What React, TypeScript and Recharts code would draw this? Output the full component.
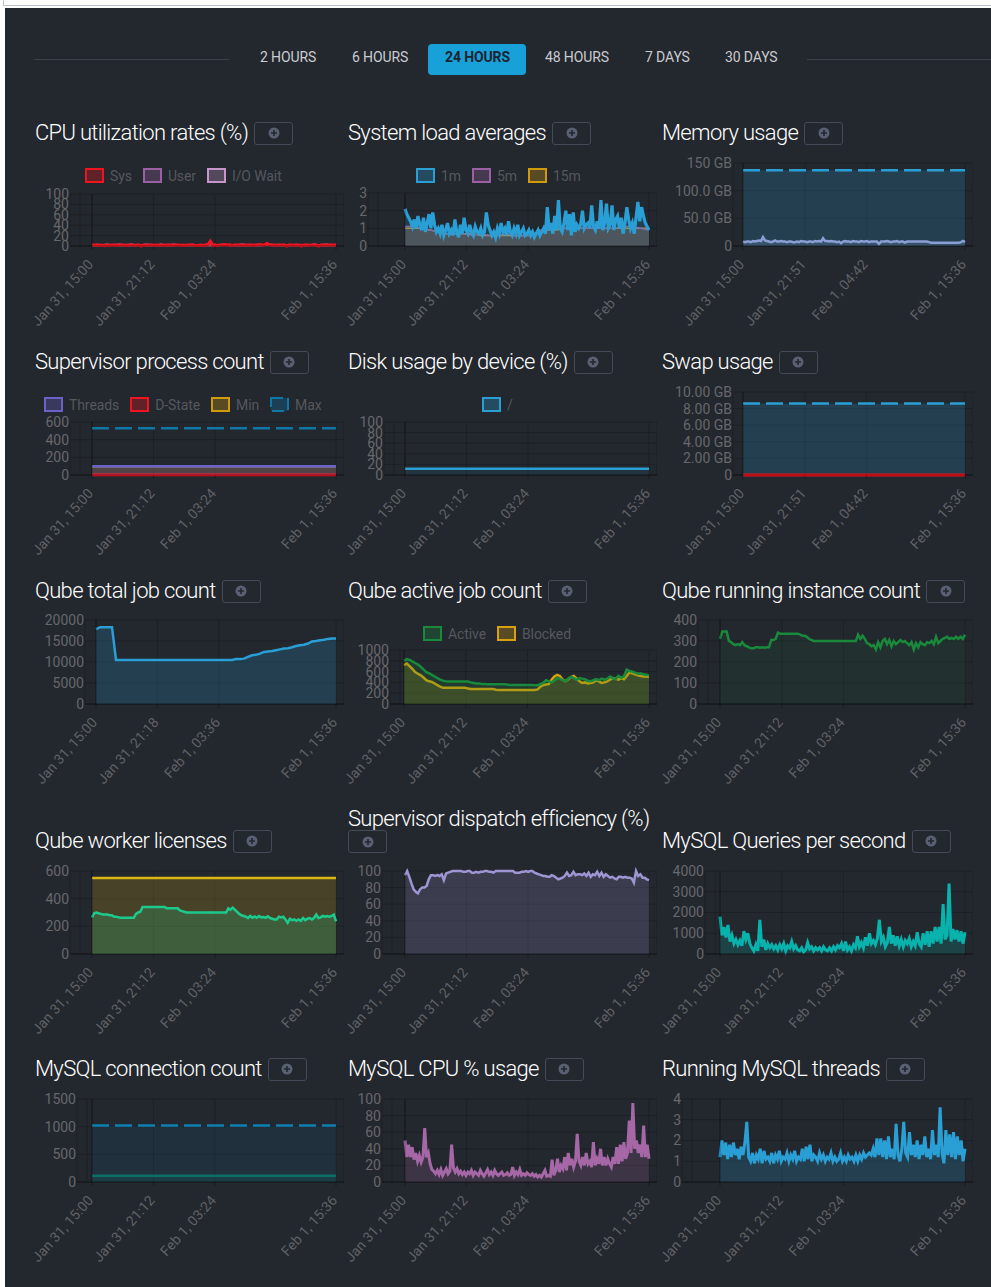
import { Area, CartesianGrid, ComposedChart, ReferenceLine, XAxis, YAxis } from 'recharts'

const FONT = 'Roboto, sans-serif'
const BLUE = '#2a9fd6'
const PURPLE = '#9b5fa3'
const AMBER = '#d09a0c'
const RED = '#f0141e'

const TIME_SPAN = 24.6

const tabLabels = ['2 HOURS', '6 HOURS', '24 HOURS', '48 HOURS', '7 DAYS', '30 DAYS']
const tabLefts = [260, 352, 445, 545, 645, 725]

const xHoursA = [0, 6.2, 12.4, 24.6]
const xLabelsA = ['Jan 31, 15:00', 'Jan 31, 21:12', 'Feb 1, 03:24', 'Feb 1, 15:36']
const xHoursB = [0, 6.85, 13.7, 24.6]
const xLabelsB = ['Jan 31, 15:00', 'Jan 31, 21:51', 'Feb 1, 04:42', 'Feb 1, 15:36']
const xHoursC = [0, 6.3, 12.6, 24.6]
const xLabelsC = ['Jan 31, 15:00', 'Jan 31, 21:18', 'Feb 1, 03:36', 'Feb 1, 15:36']

const cpuSys = [2, 2, 2, 1, 2, 0.5, 2, 1, 2, 2, 1, 2, 2, 2, 1, 2, 2, 1, 2, 2, 0, 2, 1, 2, 2, 2, 1, 2, 2, 1, 2, 2, 1, 2, 2, 2, 1, 2, 1, 2, 2, 2, 1, 1, 2, 1, 2, 2, 9, 1, 2, 1, 2, 2, 3, 2, 2, 1, 2, 2, 2, 1, 2, 2, 2, 1, 2, 2, 3, 2, 2, 5, 2, 2, 2, 1, 2, 2, 2, 0, 2, 2, 1, 2, 2, 0, 2, 2, 1, 2, 2, 2, 0, 2, 2, 2, 1, 2, 2, 2]
const cpuUser = [2, 2, 3, 3, 2, 3, 4, 3, 2, 3, 3, 4, 3, 2, 3, 3, 4, 3, 2, 3, 2, 3, 4, 3, 3, 1, 3, 2, 4, 3, 2, 3, 3, 4, 3, 2, 3, 1, 3, 2, 3, 3, 2, 0, 3, 2, 3, 3, 11, 3, 3, 2, 3, 3, 3, 1, 3, 0, 3, 2, 3, 4, 3, 2, 3, 3, 2, 3, 3, 2, 3, 3, 4, 3, 2, 3, 3, 2, 3, 2, 3, 2, 3, 3, 2, 3, 2, 3, 3, 2, 4, 3, 2, 3, 3, 4, 3, 3, 2, 3]
const cpuIoWait = [1, 1, 1, 2, 1, 1, 1, 1, 2, 1, 1, 1, 1, 1, 2, 1, 1, 1, 1, 1, 1, 2, 1, 1, 1, 1, 1, 1, 2, 1, 1, 1, 1, 1, 1, 2, 1, 1, 1, 1]

const load1m = [2.1, 1.8, 1.6, 1.4, 1.1, 1.5, 1.0, 1.7, 1.2, 0.9, 1.6, 0.8, 1.3, 1.8, 1.0, 1.9, 1.2, 0.8, 1.0, 0.7, 1.2, 0.6, 0.9, 1.3, 0.7, 0.9, 0.6, 1.5, 0.8, 0.5, 1.2, 0.7, 1.6, 0.9, 0.7, 1.2, 0.8, 0.6, 1.1, 0.8, 0.7, 1.0, 0.6, 0.8, 1.9, 1.2, 0.9, 0.6, 0.8, 0.5, 1.0, 0.7, 1.3, 0.8, 1.0, 0.6, 1.4, 0.8, 0.6, 1.0, 0.7, 1.2, 0.6, 0.8, 1.0, 0.6, 0.7, 0.9, 0.6, 0.8, 0.5, 0.7, 0.9, 0.6, 0.8, 1.0, 0.7, 2.2, 0.9, 1.3, 0.7, 1.7, 0.9, 2.6, 1.0, 0.8, 1.3, 2.0, 0.9, 1.8, 0.6, 1.9, 0.8, 1.2, 1.0, 1.2, 2.0, 1.0, 1.2, 1.3, 1.0, 2.3, 1.1, 0.9, 1.4, 1.0, 2.6, 0.9, 1.3, 2.4, 1.0, 1.2, 2.3, 0.9, 1.5, 1.7, 1.0, 1.6, 0.7, 1.3, 2.2, 1.5, 1.0, 1.3, 0.7, 1.6, 2.5, 1.4, 2.2, 1.7, 1.3, 1.1, 0.9]
const load5m = [1.1, 1.1, 1.0, 0.9, 0.8, 0.7, 0.7, 0.7, 0.6, 0.7, 0.6, 0.6, 0.7, 0.6, 0.6, 0.6, 0.9, 0.9, 1.0, 1.0, 1.0, 1.0, 1.0, 1.0, 1.0, 1.0, 1.1, 1.1, 1.0, 0.9]
const load15m = [1.0, 1.0, 1.0, 0.9, 0.8, 0.7, 0.7, 0.7, 0.7, 0.6, 0.6, 0.6, 0.6, 0.6, 0.6, 0.6, 0.8, 0.9, 0.9, 1.0, 1.0, 1.0, 1.0, 1.0, 1.0, 1.0, 1.0, 1.0, 1.0, 1.0]

const memoryUsed = [8, 7, 8, 8, 7, 9, 8, 9, 10, 9, 16, 10, 9, 8, 7, 8, 10, 8, 8, 9, 8, 8, 7, 8, 8, 7, 7, 8, 7, 9, 8, 8, 7, 8, 8, 7, 9, 8, 9, 8, 14, 9, 9, 8, 9, 8, 8, 7, 8, 5, 8, 9, 8, 8, 7, 9, 8, 8, 7, 9, 8, 8, 9, 7, 8, 8, 8, 8, 4, 8, 8, 8, 9, 8, 7, 8, 8, 9, 7, 8, 8, 6, 8, 8, 8, 8, 8, 8, 8, 8, 8, 8, 8, 7, 6, 6, 6, 6, 6, 6, 6, 6, 6, 6, 6, 6, 6, 6, 6, 7, 9, 7]
const memoryTotal = [137, 137]

const procThreads = [100, 100]
const procDState = [2, 2]
const procMin = [95, 95]
const procMax = [530, 530]

const diskRoot = [12, 12]

const swapUsed = [0, 0]
const swapTotal = [8.6, 8.6]

const qubeTotal = [17800, 18300, 18300, 18300, 18300, 10500, 10500, 10500, 10500, 10500, 10500, 10500, 10500, 10500, 10500, 10500, 10500, 10500, 10500, 10500, 10500, 10500, 10500, 10500, 10500, 10500, 10500, 10500, 10500, 10500, 10500, 10500, 10500, 10500, 10500, 10700, 10700, 10800, 11200, 11600, 11700, 12000, 12400, 12500, 12600, 12800, 13000, 13200, 13300, 13500, 13800, 14000, 14100, 14400, 14900, 15000, 15200, 15300, 15500, 15600, 15600]

const activeJobs = [800, 830, 815, 790, 760, 730, 690, 640, 590, 570, 540, 510, 480, 450, 430, 420, 415, 415, 415, 415, 415, 415, 415, 415, 400, 390, 380, 380, 370, 370, 365, 365, 365, 365, 365, 365, 365, 360, 350, 350, 350, 350, 350, 350, 350, 350, 350, 345, 345, 370, 390, 440, 420, 400, 430, 480, 470, 440, 420, 470, 500, 480, 450, 480, 470, 460, 430, 420, 440, 460, 440, 470, 450, 470, 510, 480, 460, 520, 490, 510, 640, 610, 600, 580, 560, 570, 550, 540, 530]
const blockedJobs = [720, 750, 700, 650, 590, 560, 530, 490, 440, 420, 410, 380, 350, 320, 300, 300, 300, 300, 300, 300, 300, 300, 300, 285, 280, 280, 280, 280, 280, 280, 280, 280, 280, 265, 260, 260, 260, 260, 260, 260, 260, 260, 260, 260, 260, 260, 260, 260, 270, 320, 350, 360, 370, 450, 510, 540, 520, 450, 420, 460, 500, 520, 470, 420, 390, 400, 380, 390, 400, 440, 420, 390, 400, 420, 450, 480, 470, 450, 480, 460, 520, 590, 570, 550, 530, 520, 510, 510, 500]

const runningInstances = [310, 345, 345, 345, 300, 295, 285, 280, 285, 280, 295, 280, 275, 270, 265, 265, 270, 270, 268, 270, 268, 270, 270, 305, 305, 310, 340, 335, 335, 335, 335, 335, 335, 335, 335, 335, 330, 325, 325, 320, 310, 305, 300, 300, 300, 300, 300, 300, 300, 300, 300, 300, 300, 300, 300, 300, 300, 300, 300, 300, 300, 300, 330, 310, 325, 310, 290, 285, 275, 280, 260, 295, 270, 300, 310, 285, 305, 275, 300, 285, 295, 305, 295, 300, 290, 280, 295, 260, 290, 270, 295, 285, 280, 295, 290, 300, 285, 320, 290, 300, 310, 315, 320, 310, 315, 310, 320, 310, 320, 310, 330]

const licensesUsed = [265, 295, 300, 295, 290, 285, 285, 285, 280, 280, 270, 270, 265, 262, 262, 262, 262, 262, 262, 262, 290, 300, 305, 340, 340, 340, 340, 340, 340, 340, 340, 340, 340, 340, 330, 330, 330, 330, 330, 330, 315, 310, 305, 300, 300, 300, 300, 300, 300, 300, 300, 300, 300, 300, 300, 300, 300, 300, 300, 300, 300, 300, 330, 320, 335, 320, 305, 290, 280, 275, 270, 260, 275, 262, 272, 262, 275, 265, 268, 262, 272, 260, 255, 250, 250, 270, 265, 270, 250, 225, 255, 245, 250, 240, 250, 240, 260, 245, 255, 260, 250, 260, 285, 260, 265, 275, 270, 275, 270, 275, 285, 235]
const licensesTotal = [550, 550]

const dispatchEfficiency = [95, 100, 93, 85, 78, 75, 73, 78, 80, 80, 82, 90, 95, 95, 94, 95, 94, 96, 89, 97, 98, 99, 100, 100, 100, 100, 100, 99, 99, 100, 100, 98, 98, 99, 98, 99, 99, 100, 100, 99, 99, 98, 100, 100, 100, 100, 100, 100, 100, 100, 100, 98, 98, 98, 99, 99, 100, 99, 100, 100, 98, 97, 96, 95, 94, 94, 93, 93, 95, 94, 92, 90, 91, 92, 94, 98, 94, 95, 99, 95, 96, 96, 95, 97, 94, 98, 93, 96, 95, 99, 94, 98, 93, 96, 94, 92, 93, 91, 90, 93, 93, 92, 93, 92, 92, 91, 86, 100, 94, 96, 92, 92, 90, 89]

const mysqlQueries = [1800, 900, 1300, 800, 1400, 600, 900, 500, 700, 450, 650, 400, 1100, 700, 1000, 500, 300, 150, 450, 150, 1650, 350, 700, 200, 500, 300, 450, 250, 400, 200, 450, 250, 500, 150, 400, 300, 600, 250, 400, 200, 150, 300, 100, 200, 550, 250, 350, 150, 300, 200, 300, 150, 350, 200, 150, 300, 150, 350, 200, 400, 300, 500, 150, 600, 200, 350, 150, 450, 300, 850, 350, 550, 300, 800, 400, 1000, 500, 650, 450, 750, 1650, 600, 800, 350, 550, 1300, 500, 900, 400, 850, 400, 700, 350, 650, 500, 750, 350, 600, 400, 1050, 500, 350, 1000, 450, 1100, 350, 1100, 500, 1300, 600, 1300, 500, 2400, 700, 900, 3400, 600, 1200, 700, 1150, 600, 1100, 500, 1050]

const mysqlConnections = [115, 115]
const mysqlMaxConnections = [1020, 1020]

const mysqlCpu = [50, 30, 45, 30, 42, 27, 35, 25, 32, 24, 30, 65, 30, 35, 22, 15, 13, 10, 14, 9, 15, 8, 12, 16, 10, 13, 45, 17, 12, 16, 10, 13, 9, 12, 8, 12, 10, 14, 8, 12, 10, 8, 14, 10, 7, 11, 15, 9, 12, 8, 14, 10, 8, 10, 12, 8, 9, 11, 8, 9, 18, 8, 12, 9, 15, 8, 10, 8, 11, 9, 8, 10, 7, 9, 6, 8, 6, 10, 14, 7, 8, 7, 27, 8, 14, 28, 12, 20, 16, 30, 14, 35, 20, 28, 18, 25, 58, 25, 20, 30, 20, 35, 22, 25, 18, 48, 20, 28, 22, 40, 20, 30, 20, 28, 22, 18, 30, 22, 42, 22, 45, 25, 48, 28, 35, 74, 35, 95, 40, 50, 35, 45, 30, 68, 30, 45, 28]

const mysqlThreads = [1.2, 2.0, 1.3, 1.9, 1.1, 1.8, 1.2, 1.9, 1.3, 1.6, 1.1, 1.7, 1.3, 1.9, 2.9, 1.2, 1.0, 1.4, 0.9, 1.3, 1.1, 1.6, 0.9, 1.5, 1.1, 1.2, 1.0, 1.4, 0.9, 1.3, 1.1, 1.5, 1.0, 1.2, 1.1, 1.4, 1.0, 1.3, 1.1, 1.5, 1.0, 1.2, 1.1, 1.6, 1.0, 1.7, 1.1, 1.8, 1.0, 1.3, 1.2, 1.0, 1.4, 1.1, 1.3, 1.0, 1.2, 1.1, 1.4, 1.0, 1.2, 1.0, 1.1, 1.4, 1.0, 1.2, 1.0, 1.3, 1.1, 1.2, 1.0, 1.3, 1.0, 1.3, 1.1, 1.4, 1.2, 1.3, 1.4, 1.3, 1.6, 1.2, 2.1, 1.3, 2.1, 1.2, 2.0, 1.1, 2.2, 1.2, 1.6, 1.1, 2.8, 1.3, 1.0, 1.6, 2.9, 1.4, 1.2, 2.4, 1.3, 1.8, 1.2, 2.0, 1.1, 1.8, 1.3, 2.2, 1.2, 1.6, 1.1, 2.5, 1.3, 1.8, 1.2, 3.6, 1.4, 0.9, 2.5, 1.3, 2.3, 1.2, 2.4, 1.1, 2.2, 1.3, 2.0, 1.0, 1.6]

type Series = {
  name: string
  values: number[]
  color: string
  fillOpacity?: number
  dashed?: boolean
  width?: number
}

type Panel = {
  title: string
  titleX: number
  titleY: number
  buttonBelow?: boolean
  labelRight: number
  plotLeft: number
  plotRight: number
  yTop: number
  yZero: number
  yTicks: number[]
  yLabels?: string[]
  xHours: number[]
  xLabels: string[]
  series: Series[]
  legendLeft?: number
  legendY?: number
}

const rowCols = [35, 348, 662]

const panels: Panel[] = [
  {
    title: 'CPU utilization rates (%)', titleX: rowCols[0], titleY: 132,
    labelRight: 69, plotLeft: 92, plotRight: 336, yTop: 194, yZero: 246,
    yTicks: [0, 20, 40, 60, 80, 100], xHours: xHoursA, xLabels: xLabelsA, legendLeft: 85, legendY: 168,
    series: [
      { name: 'Sys', values: cpuSys, color: RED, width: 3 },
      { name: 'User', values: cpuUser, color: PURPLE, width: 1.5 },
      { name: 'I/O Wait', values: cpuIoWait, color: '#c795c9', width: 2 },
    ],
  },
  {
    title: 'System load averages', titleX: rowCols[1], titleY: 132,
    labelRight: 367, plotLeft: 405, plotRight: 649, yTop: 193, yZero: 246,
    yTicks: [0, 1, 2, 3], xHours: xHoursA, xLabels: xLabelsA, legendLeft: 416, legendY: 168,
    series: [
      { name: '1m', values: load1m, color: BLUE, width: 3.2 },
      { name: '5m', values: load5m, color: PURPLE, width: 1.5 },
      { name: '15m', values: load15m, color: AMBER, width: 1.5 },
    ],
  },
  {
    title: 'Memory usage', titleX: rowCols[2], titleY: 132,
    labelRight: 732, plotLeft: 743, plotRight: 965, yTop: 163, yZero: 246,
    yTicks: [0, 50, 100, 150], yLabels: ['0', '50.0 GB', '100.0 GB', '150 GB'], xHours: xHoursB, xLabels: xLabelsB,
    series: [
      { name: 'Used', values: memoryUsed, color: '#8b9fd6', width: 2.5 },
      { name: 'Total', values: memoryTotal, color: BLUE, dashed: true, width: 2.5 },
    ],
  },
  {
    title: 'Supervisor process count', titleX: rowCols[0], titleY: 361,
    labelRight: 69, plotLeft: 92, plotRight: 336, yTop: 422, yZero: 475,
    yTicks: [0, 200, 400, 600], xHours: xHoursA, xLabels: xLabelsA, legendLeft: 44, legendY: 397,
    series: [
      { name: 'Threads', values: procThreads, color: '#6a62c8', width: 2.5 },
      { name: 'D-State', values: procDState, color: RED, width: 3 },
      { name: 'Min', values: procMin, color: AMBER, width: 2 },
      { name: 'Max', values: procMax, color: '#0f77a8', dashed: true, fillOpacity: 0, width: 2.5 },
    ],
  },
  {
    title: 'Disk usage by device (%)', titleX: rowCols[1], titleY: 361,
    labelRight: 383, plotLeft: 405, plotRight: 649, yTop: 422, yZero: 475,
    yTicks: [0, 20, 40, 60, 80, 100], xHours: xHoursA, xLabels: xLabelsA, legendLeft: 482, legendY: 397,
    series: [{ name: '/', values: diskRoot, color: BLUE, width: 2.5, fillOpacity: 0.1 }],
  },
  {
    title: 'Swap usage', titleX: rowCols[2], titleY: 361,
    labelRight: 732, plotLeft: 743, plotRight: 965, yTop: 392, yZero: 475,
    yTicks: [0, 2, 4, 6, 8, 10], yLabels: ['0', '2.00 GB', '4.00 GB', '6.00 GB', '8.00 GB', '10.00 GB'], xHours: xHoursB, xLabels: xLabelsB,
    series: [
      { name: 'Used', values: swapUsed, color: RED, width: 3 },
      { name: 'Total', values: swapTotal, color: BLUE, dashed: true, width: 2.5 },
    ],
  },
  {
    title: 'Qube total job count', titleX: rowCols[0], titleY: 590,
    labelRight: 84, plotLeft: 96, plotRight: 336, yTop: 620, yZero: 704,
    yTicks: [0, 5000, 10000, 15000, 20000], xHours: xHoursC, xLabels: xLabelsC,
    series: [{ name: 'Total', values: qubeTotal, color: BLUE, width: 2.5 }],
  },
  {
    title: 'Qube active job count', titleX: rowCols[1], titleY: 590,
    labelRight: 389, plotLeft: 404, plotRight: 649, yTop: 650, yZero: 704,
    yTicks: [0, 200, 400, 600, 800, 1000], xHours: xHoursA, xLabels: xLabelsA, legendLeft: 423, legendY: 626,
    series: [
      { name: 'Active', values: activeJobs, color: '#198a3c', width: 2.5 },
      { name: 'Blocked', values: blockedJobs, color: '#d6a10c', width: 2.5 },
    ],
  },
  {
    title: 'Qube running instance count', titleX: rowCols[2], titleY: 590,
    labelRight: 697, plotLeft: 720, plotRight: 965, yTop: 620, yZero: 704,
    yTicks: [0, 100, 200, 300, 400], xHours: xHoursA, xLabels: xLabelsA,
    series: [{ name: 'Running', values: runningInstances, color: '#198a3c', fillOpacity: 0.1, width: 2.5 }],
  },
  {
    title: 'Qube worker licenses', titleX: rowCols[0], titleY: 840,
    labelRight: 69, plotLeft: 92, plotRight: 336, yTop: 871, yZero: 954,
    yTicks: [0, 200, 400, 600], xHours: xHoursA, xLabels: xLabelsA,
    series: [
      { name: 'Used', values: licensesUsed, color: '#1ccb8c', width: 2.5 },
      { name: 'Total', values: licensesTotal, color: '#dcb414', width: 2.5 },
    ],
  },
  {
    title: 'Supervisor dispatch efficiency (%)', titleX: rowCols[1], titleY: 818, buttonBelow: true,
    labelRight: 381, plotLeft: 405, plotRight: 649, yTop: 871, yZero: 954,
    yTicks: [0, 20, 40, 60, 80, 100], xHours: xHoursA, xLabels: xLabelsA,
    series: [{ name: 'Efficiency', values: dispatchEfficiency, color: '#9d96d2', width: 2.5 }],
  },
  {
    title: 'MySQL Queries per second', titleX: rowCols[2], titleY: 840,
    labelRight: 704, plotLeft: 720, plotRight: 965, yTop: 871, yZero: 954,
    yTicks: [0, 1000, 2000, 3000, 4000], xHours: xHoursA, xLabels: xLabelsA,
    series: [{ name: 'Queries', values: mysqlQueries, color: '#09b3ad', width: 3 }],
  },
  {
    title: 'MySQL connection count', titleX: rowCols[0], titleY: 1068,
    labelRight: 76, plotLeft: 92, plotRight: 336, yTop: 1099, yZero: 1182,
    yTicks: [0, 500, 1000, 1500], xHours: xHoursA, xLabels: xLabelsA,
    series: [
      { name: 'Connections', values: mysqlConnections, color: '#0b6f66', width: 2.5 },
      { name: 'Max', values: mysqlMaxConnections, color: '#0f7fb0', dashed: true, fillOpacity: 0.12, width: 2.5 },
    ],
  },
  {
    title: 'MySQL CPU % usage', titleX: rowCols[1], titleY: 1068,
    labelRight: 381, plotLeft: 405, plotRight: 649, yTop: 1099, yZero: 1182,
    yTicks: [0, 20, 40, 60, 80, 100], xHours: xHoursA, xLabels: xLabelsA,
    series: [{ name: 'CPU', values: mysqlCpu, color: '#a567a6', width: 3 }],
  },
  {
    title: 'Running MySQL threads', titleX: rowCols[2], titleY: 1068,
    labelRight: 681, plotLeft: 720, plotRight: 965, yTop: 1099, yZero: 1182,
    yTicks: [0, 1, 2, 3, 4], xHours: xHoursA, xLabels: xLabelsA,
    series: [{ name: 'Threads', values: mysqlThreads, color: BLUE, width: 3 }],
  },
]

function AngledTick(props: any) {
  const { x, y, payload, hours, labels } = props
  const label = labels[hours.indexOf(payload.value)]
  const endX = x + 2
  const endY = y + 15
  return (
    <text
      x={endX}
      y={endY}
      textAnchor="end"
      fontFamily={FONT}
      fontSize={14}
      fill="#5f6266"
      transform={`rotate(-48 ${endX} ${endY})`}
    >
      {label}
    </text>
  )
}

function AddButton({ style }: { style: React.CSSProperties }) {
  return (
    <div
      style={{
        width: 37,
        height: 21,
        border: '1px solid #454a59',
        borderRadius: 3,
        display: 'flex',
        alignItems: 'center',
        justifyContent: 'center',
        ...style,
      }}
    >
      <svg width={12} height={12} viewBox="0 0 12 12">
        <circle cx={6} cy={6} r={5.5} fill="#5a6073" />
        <path d="M6 3v6M3 6h6" stroke="#23272e" strokeWidth={1.6} />
      </svg>
    </div>
  )
}

function Legend({ series, left, top }: { series: Series[]; left: number; top: number }) {
  return (
    <div style={{ position: 'absolute', left, top, display: 'flex', alignItems: 'center', height: 15, whiteSpace: 'nowrap' }}>
      {series.map((s) => (
        <div key={s.name} style={{ display: 'flex', alignItems: 'center', marginRight: 11 }}>
          <svg width={19} height={15} style={{ marginRight: 6 }}>
            <rect
              x={1}
              y={1}
              width={17}
              height={13}
              fill={s.color}
              fillOpacity={0.3}
              stroke={s.color}
              strokeWidth={2}
              strokeDasharray={s.dashed ? '12 5' : undefined}
            />
          </svg>
          <span style={{ fontFamily: FONT, fontSize: 14, letterSpacing: -0.1, color: '#55585d' }}>{s.name}</span>
        </div>
      ))}
    </div>
  )
}

function ChartPanel({ panel }: { panel: Panel }) {
  const { labelRight, plotLeft, plotRight, yTop, yZero, yTicks, yLabels, xHours, xLabels, series } = panel
  const pxPerHour = (plotRight - plotLeft) / TIME_SPAN
  const gridLeft = labelRight + 1
  const gridRight = plotRight + 8
  const domainStart = -(plotLeft - gridLeft) / pxPerHour
  const domainEnd = TIME_SPAN + (gridRight - plotRight) / pxPerHour
  const axisWidth = 70
  const topPad = 12
  const xAxisHeight = 90
  const width = gridRight - gridLeft + axisWidth
  const height = yZero - yTop + topPad + xAxisHeight
  const yMax = yTicks[yTicks.length - 1]

  // one row per distinct sample time, series with fewer samples are joined with connectNulls
  const byHour = new Map<number, Record<string, number>>()
  series.forEach((s, si) => {
    s.values.forEach((v, i) => {
      const hour = (i / (s.values.length - 1)) * TIME_SPAN
      const row = byHour.get(hour) ?? { hour }
      row[`s${si}`] = v
      byHour.set(hour, row)
    })
  })
  const rows = [...byHour.values()].sort((a, b) => a.hour - b.hour)

  const faintLine = plotLeft - labelRight > 14 ? domainStart + 10 / pxPerHour : null

  return (
    <div style={{ position: 'absolute', left: gridLeft - axisWidth, top: yTop - topPad }}>
      <ComposedChart
        width={width}
        height={height}
        data={rows}
        margin={{ top: topPad, right: 0, bottom: 0, left: 0 }}
      >
        <CartesianGrid stroke="rgba(0,0,0,0.16)" vertical horizontal />
        <XAxis
          dataKey="hour"
          type="number"
          domain={[domainStart, domainEnd]}
          allowDataOverflow
          ticks={xHours}
          interval={0}
          height={xAxisHeight}
          tickSize={4}
          tickMargin={0}
          tickLine={{ stroke: 'rgba(0,0,0,0.25)' }}
          axisLine={false}
          tick={<AngledTick hours={xHours} labels={xLabels} />}
        />
        <YAxis
          type="number"
          width={axisWidth}
          domain={[0, yMax]}
          ticks={yTicks}
          interval={0}
          tickSize={0}
          tickMargin={1}
          axisLine={false}
          tickLine={false}
          tick={{ fill: '#66686c', fontSize: 14, fontFamily: FONT }}
          tickFormatter={(v: number) => (yLabels ? yLabels[yTicks.indexOf(v)] : String(v))}
        />
        {faintLine !== null && <ReferenceLine x={faintLine} stroke="rgba(0,0,0,0.14)" />}
        <ReferenceLine x={0} stroke="rgba(0,0,0,0.3)" />
        <ReferenceLine y={0} stroke="rgba(0,0,0,0.45)" />
        {/* chart.js paints the first dataset last, so it stays on top */}
        {[...series.keys()].reverse().map((si) => {
          const s = series[si]
          return (
            <Area
              key={s.name}
              type="linear"
              dataKey={`s${si}`}
              connectNulls
              stroke={s.color}
              strokeWidth={s.width ?? 2}
              strokeDasharray={s.dashed ? '17 6' : undefined}
              fill={s.color}
              fillOpacity={s.fillOpacity ?? 0.2}
              dot={false}
              activeDot={false}
              isAnimationActive={false}
            />
          )
        })}
      </ComposedChart>
    </div>
  )
}

function Title({ panel }: { panel: Panel }) {
  const { title, titleX, titleY, buttonBelow } = panel
  return (
    <>
      <div
        style={{
          position: 'absolute',
          left: titleX,
          top: titleY - 14,
          height: 28,
          display: 'flex',
          alignItems: 'center',
          whiteSpace: 'nowrap',
          fontFamily: FONT,
          fontWeight: 300,
          fontSize: 22,
          letterSpacing: -0.68,
          color: '#ffffff',
        }}
      >
        <span>{title}</span>
        {!buttonBelow && <AddButton style={{ marginLeft: 6, marginTop: 2 }} />}
      </div>
      {buttonBelow && <AddButton style={{ position: 'absolute', left: titleX, top: titleY + 12 }} />}
    </>
  )
}

export default function App() {
  return (
    <div style={{ position: 'absolute', left: 0, top: 0, width: 991, height: 1287, overflow: 'hidden', background: '#fff' }}>
      <div style={{ position: 'absolute', left: 3, top: 5, right: 0, height: 1, background: '#b9c2cc' }} />
      <div style={{ position: 'absolute', left: 3, top: 0, width: 1, height: 6, background: '#b9c2cc' }} />
      <div style={{ position: 'absolute', left: 5, top: 8, right: 0, bottom: 0, background: '#23272e' }} />

      <div style={{ position: 'absolute', left: 34, top: 59, width: 195, height: 1, background: '#3c4048' }} />
      <div style={{ position: 'absolute', left: 807, top: 59, width: 184, height: 1, background: '#3c4048' }} />
      <div style={{ position: 'absolute', left: 428, top: 44, width: 98, height: 31, borderRadius: 4, background: '#18a0d8' }} />
      {tabLabels.map((label, i) => (
        <div
          key={label}
          style={{
            position: 'absolute',
            left: tabLefts[i],
            top: 47,
            height: 20,
            lineHeight: '20px',
            whiteSpace: 'nowrap',
            fontFamily: FONT,
            fontSize: 14,
            letterSpacing: -0.12,
            fontWeight: i === 2 ? 700 : 400,
            color: i === 2 ? '#1d2430' : '#c9ccd0',
          }}
        >
          {label}
        </div>
      ))}

      {panels.map((panel) => (
        <div key={panel.title}>
          <Title panel={panel} />
          {panel.legendLeft !== undefined && (
            <Legend series={panel.series} left={panel.legendLeft} top={panel.legendY as number} />
          )}
          <ChartPanel panel={panel} />
        </div>
      ))}
    </div>
  )
}
